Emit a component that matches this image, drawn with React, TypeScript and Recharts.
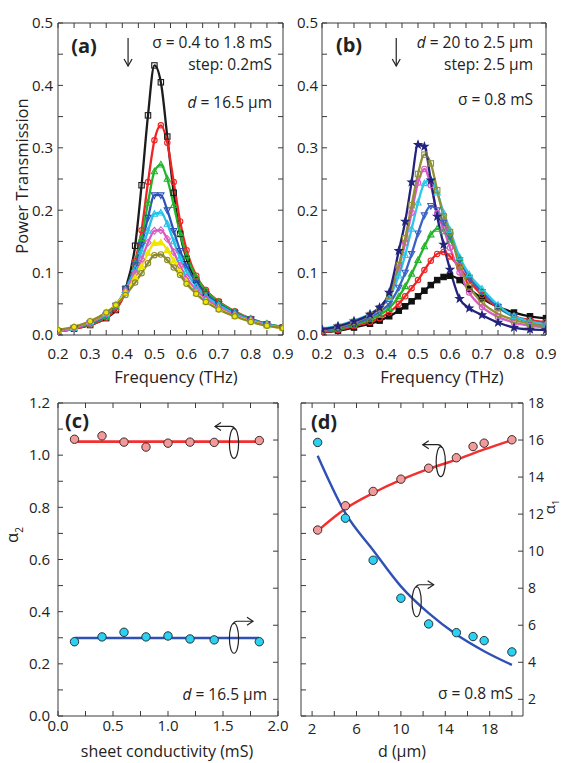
import React from "react";
import { ComposedChart, LineChart, Line, Scatter, XAxis, YAxis, ReferenceDot } from "recharts";

const W = 563;
const H = 763;
const FONT = "'Open Sans', 'Noto Sans', sans-serif";
const INK = "#222";

// ---- panels (a) and (b): frequency grid (THz) ----
const FREQ = [0.2, 0.25, 0.3, 0.35, 0.38, 0.41, 0.44, 0.46, 0.48, 0.5, 0.52, 0.54, 0.56, 0.58, 0.6, 0.63, 0.66, 0.7, 0.75, 0.8, 0.85, 0.9];
const FREQ_TICKS = [0.2, 0.25, 0.3, 0.35, 0.4, 0.45, 0.5, 0.55, 0.6, 0.65, 0.7, 0.75, 0.8, 0.85, 0.9];
const POWER_TICKS = [0, 0.05, 0.1, 0.15, 0.2, 0.25, 0.3, 0.35, 0.4, 0.45, 0.5];

// (a) sigma = 0.4 .. 1.8 mS
const SIG04 = [0.006, 0.010, 0.016, 0.027, 0.040, 0.074, 0.143, 0.240, 0.352, 0.432, 0.405, 0.318, 0.228, 0.162, 0.122, 0.088, 0.068, 0.052, 0.036, 0.025, 0.017, 0.012];
const SIG06 = [0.006, 0.010, 0.016, 0.028, 0.041, 0.068, 0.118, 0.168, 0.245, 0.312, 0.336, 0.308, 0.245, 0.182, 0.136, 0.095, 0.072, 0.054, 0.038, 0.026, 0.018, 0.013];
const SIG08 = [0.006, 0.011, 0.018, 0.030, 0.045, 0.072, 0.115, 0.155, 0.212, 0.262, 0.273, 0.250, 0.208, 0.163, 0.127, 0.093, 0.071, 0.053, 0.037, 0.026, 0.018, 0.013];
const SIG10 = [0.006, 0.011, 0.019, 0.032, 0.047, 0.073, 0.112, 0.145, 0.188, 0.224, 0.224, 0.200, 0.167, 0.135, 0.110, 0.084, 0.066, 0.050, 0.035, 0.025, 0.017, 0.012];
const SIG12 = [0.006, 0.011, 0.020, 0.033, 0.048, 0.072, 0.106, 0.134, 0.167, 0.194, 0.196, 0.178, 0.150, 0.123, 0.101, 0.078, 0.062, 0.048, 0.034, 0.024, 0.017, 0.012];
const SIG14 = [0.006, 0.011, 0.020, 0.034, 0.048, 0.070, 0.099, 0.121, 0.148, 0.167, 0.168, 0.154, 0.133, 0.111, 0.092, 0.072, 0.058, 0.045, 0.032, 0.023, 0.016, 0.011];
const SIG16 = [0.008, 0.013, 0.022, 0.036, 0.049, 0.068, 0.092, 0.110, 0.131, 0.147, 0.148, 0.136, 0.119, 0.101, 0.085, 0.067, 0.054, 0.042, 0.030, 0.022, 0.015, 0.011];
const SIG18 = [0.008, 0.013, 0.022, 0.036, 0.048, 0.064, 0.084, 0.099, 0.115, 0.128, 0.129, 0.120, 0.108, 0.096, 0.082, 0.066, 0.053, 0.041, 0.030, 0.021, 0.015, 0.011];

// (b) d = 20 .. 2.5 um
const D200 = [0.009, 0.014, 0.022, 0.033, 0.044, 0.068, 0.135, 0.182, 0.245, 0.305, 0.302, 0.248, 0.190, 0.145, 0.105, 0.058, 0.043, 0.032, 0.020, 0.012, 0.009, 0.008];
const D175 = [0.008, 0.013, 0.021, 0.032, 0.043, 0.063, 0.112, 0.155, 0.208, 0.258, 0.289, 0.275, 0.232, 0.190, 0.165, 0.110, 0.078, 0.052, 0.034, 0.024, 0.018, 0.014];
const D150 = [0.008, 0.013, 0.021, 0.032, 0.043, 0.062, 0.108, 0.148, 0.196, 0.244, 0.266, 0.240, 0.195, 0.170, 0.140, 0.100, 0.068, 0.045, 0.029, 0.020, 0.015, 0.012];
const D125 = [0.010, 0.015, 0.023, 0.034, 0.044, 0.060, 0.095, 0.128, 0.170, 0.212, 0.243, 0.249, 0.228, 0.196, 0.168, 0.125, 0.097, 0.074, 0.048, 0.030, 0.022, 0.017];
const D100 = [0.007, 0.011, 0.018, 0.028, 0.037, 0.050, 0.076, 0.100, 0.130, 0.163, 0.192, 0.207, 0.200, 0.180, 0.158, 0.120, 0.092, 0.069, 0.045, 0.030, 0.021, 0.016];
const D075 = [0.006, 0.010, 0.016, 0.025, 0.032, 0.043, 0.062, 0.078, 0.098, 0.120, 0.142, 0.161, 0.170, 0.166, 0.153, 0.123, 0.095, 0.069, 0.045, 0.029, 0.021, 0.016];
const D050 = [0.005, 0.008, 0.014, 0.021, 0.027, 0.036, 0.050, 0.062, 0.075, 0.088, 0.104, 0.119, 0.130, 0.133, 0.126, 0.108, 0.087, 0.064, 0.044, 0.030, 0.024, 0.021];
const D025 = [0.004, 0.007, 0.012, 0.018, 0.023, 0.030, 0.039, 0.046, 0.054, 0.062, 0.071, 0.080, 0.088, 0.093, 0.095, 0.088, 0.074, 0.059, 0.045, 0.036, 0.030, 0.027];

// ---- panel (c): fit parameters vs sheet conductivity ----
const SIGMA_PTS = [0.15, 0.4, 0.6, 0.8, 1.0, 1.2, 1.42, 1.83];
const ALPHA2_C = [1.061, 1.074, 1.050, 1.031, 1.046, 1.050, 1.049, 1.056];
const ALPHA1_C = [5.11, 5.37, 5.62, 5.37, 5.42, 5.26, 5.21, 5.11];
const SIGMA_FIT = [0.15, 1.83];
const ALPHA2_C_FIT = [1.052, 1.052];
const ALPHA1_C_FIT = [5.31, 5.31];

// ---- panel (d): fit parameters vs spacing ----
const D_PTS = [2.5, 5, 7.5, 10, 12.5, 15, 16.5, 17.5, 20];
const ALPHA2_D = [0.713, 0.806, 0.861, 0.908, 0.950, 0.990, 1.033, 1.046, 1.059];
const ALPHA1_D = [15.87, 11.78, 9.51, 7.46, 6.07, 5.60, 5.39, 5.17, 4.56];
const D_FIT = [2.5, 5, 7.5, 10, 12.5, 15, 17.5, 20];
const ALPHA2_D_FIT = [0.710, 0.795, 0.855, 0.905, 0.947, 0.983, 1.022, 1.058];
const ALPHA1_D_FIT = [15.15, 12.05, 10.05, 8.1, 6.65, 5.5, 4.6, 3.86];

const COND_TICKS = [0, 0.25, 0.5, 0.75, 1, 1.25, 1.5, 1.75, 2];
const ALPHA2_TICKS = [0, 0.1, 0.2, 0.3, 0.4, 0.5, 0.6, 0.7, 0.8, 0.9, 1, 1.1, 1.2];
const ALPHA1_TICKS = [2, 4, 6, 8, 10, 12, 14, 16, 18];
const D_TICKS = [2, 4, 6, 8, 10, 12, 14, 16, 18, 20];

type Series = { key: string; values: number[]; color: string; shape: string; fill?: string };

const SERIES_A: Series[] = [
    { key: "s04", values: SIG04, color: "#1c1c1c", shape: "square" },
    { key: "s06", values: SIG06, color: "#f02424", shape: "circle" },
    { key: "s08", values: SIG08, color: "#22b52a", shape: "triUp" },
    { key: "s10", values: SIG10, color: "#2d52b8", shape: "triDown" },
    { key: "s12", values: SIG12, color: "#22c3e6", shape: "triUp" },
    { key: "s14", values: SIG14, color: "#d95bc0", shape: "diamond" },
    { key: "s16", values: SIG16, color: "#efe600", shape: "triUp", fill: "#efe600" },
    { key: "s18", values: SIG18, color: "#8b8b2c", shape: "circle" },
];

const SERIES_B: Series[] = [
    { key: "d025", values: D025, color: "#111111", shape: "square", fill: "#111111" },
    { key: "d050", values: D050, color: "#f02424", shape: "circle" },
    { key: "d075", values: D075, color: "#22b52a", shape: "triUp" },
    { key: "d100", values: D100, color: "#3a62c4", shape: "triDown" },
    { key: "d125", values: D125, color: "#2cc6ea", shape: "triUp" },
    { key: "d150", values: D150, color: "#d95bc0", shape: "circle" },
    { key: "d175", values: D175, color: "#8f9033", shape: "square" },
    { key: "d200", values: D200, color: "#23237e", shape: "star", fill: "#23237e" },
];

const rowsFrom = (series: Series[]) =>
    FREQ.map((f, i) => {
        const r: Record<string, number> = { f };
        series.forEach((s) => (r[s.key] = s.values[i]));
        return r;
    });

const pairs = (xs: number[], ys: number[]) => xs.map((x, i) => ({ x, y: ys[i] }));

function markerDot(shape: string, color: string, fill?: string) {
    return (p: any) => {
        const { cx, cy, index } = p;
        if (cx == null || cy == null) return <g key={index} />;
        const f = fill || "none";
        const s = 2.7;
        let el: React.ReactNode;
        if (shape === "square") el = <rect x={cx - s} y={cy - s} width={2 * s} height={2 * s} />;
        else if (shape === "circle") el = <circle cx={cx} cy={cy} r={s} />;
        else if (shape === "triUp") el = <polygon points={`${cx},${cy - 3.3} ${cx + 3.1},${cy + 2.3} ${cx - 3.1},${cy + 2.3}`} />;
        else if (shape === "triDown") el = <polygon points={`${cx},${cy + 3.3} ${cx + 3.1},${cy - 2.3} ${cx - 3.1},${cy - 2.3}`} />;
        else if (shape === "diamond") el = <polygon points={`${cx},${cy - 3.4} ${cx + 3.1},${cy} ${cx},${cy + 3.4} ${cx - 3.1},${cy}`} />;
        else {
            const pts: string[] = [];
            for (let k = 0; k < 10; k++) {
                const a = -Math.PI / 2 + (k * Math.PI) / 5;
                const rr = k % 2 === 0 ? 3.9 : 1.6;
                pts.push(`${cx + rr * Math.cos(a)},${cy + rr * Math.sin(a)}`);
            }
            el = <polygon points={pts.join(" ")} />;
        }
        return (
            <g key={index} stroke={color} strokeWidth={1.1} fill={f}>
                {el}
            </g>
        );
    };
}

const tickStyle = { fontFamily: FONT, fontSize: 15, fill: INK };
const blank = () => "";
const fmtStep = (step: number, digits: number) => (v: number) =>
    Math.abs(v / step - Math.round(v / step)) < 1e-6 ? v.toFixed(digits) : "";

// recharts skips axes of zero size, so every axis gets a 1px box and the margins are 1px smaller
const axisCommon = {
    type: "number" as const,
    stroke: "#3a3a3a",
    tickSize: -5,
    allowDataOverflow: true,
    tick: tickStyle,
    interval: 0 as const,
};

const frame = (top: number, left: number, right: number, bottom: number) => ({
    top: top - 1,
    left: left - 1,
    right: W - right - 1,
    bottom: H - bottom - 1,
});

const DownArrow = (p: any) => {
    const { cx, cy } = p;
    return (
        <g stroke={INK} strokeWidth={1.2} fill="none">
            <line x1={cx} y1={cy - 14} x2={cx} y2={cy + 14} />
            <polyline points={`${cx - 4},${cy + 7} ${cx},${cy + 14} ${cx + 4},${cy + 7}`} />
        </g>
    );
};

const loopArrow = (dir: number, len: number) => (p: any) => {
    const { cx, cy } = p;
    const ty = cy - 17;
    const tip = cx + dir * len;
    return (
        <g stroke={INK} strokeWidth={1.2} fill="none">
            <ellipse cx={cx} cy={cy} rx={4.6} ry={15} />
            <path d={`M ${cx + dir * -1} ${cy - 14} Q ${cx} ${ty} ${cx + dir * 3} ${ty} L ${tip} ${ty}`} />
            <polyline points={`${tip - dir * 6},${ty - 4} ${tip},${ty} ${tip - dir * 6},${ty + 4}`} />
        </g>
    );
};

const Txt: React.FC<{ x: number; y: number; align?: "c" | "r"; size?: number; bold?: boolean; rot?: boolean; children: React.ReactNode }> = ({
    x, y, align = "c", size = 15.5, bold, rot, children,
}) => {
    const base: React.CSSProperties = {
        position: "absolute",
        top: y,
        fontFamily: FONT,
        fontSize: size,
        fontWeight: bold ? 700 : 400,
        color: INK,
        lineHeight: 1,
        whiteSpace: "nowrap",
    };
    if (align === "r") return <div style={{ ...base, right: W - x, transform: "translateY(-50%)" }}>{children}</div>;
    return (
        <div style={{ ...base, left: x, transform: `translate(-50%, -50%)${rot ? " rotate(-90deg)" : ""}` }}>{children}</div>
    );
};

const Spectra: React.FC<{ series: Series[]; left: number; right: number; arrowF: number; yMargin: number }> = ({
    series, left, right, arrowF, yMargin,
}) => (
    <LineChart
        width={W}
        height={H}
        data={rowsFrom(series)}
        margin={frame(23, left, right, 335)}
        style={{ position: "absolute", left: 0, top: 0 }}
    >
        <XAxis {...axisCommon} xAxisId="b" dataKey="f" domain={[0.2, 0.9]} ticks={FREQ_TICKS} tickFormatter={fmtStep(0.1, 1)} height={1} tickMargin={18} />
        <XAxis {...axisCommon} xAxisId="t" orientation="top" dataKey="f" domain={[0.2, 0.9]} ticks={FREQ_TICKS} tickFormatter={blank} height={1} />
        <YAxis {...axisCommon} yAxisId="l" domain={[0, 0.5]} ticks={POWER_TICKS} tickFormatter={fmtStep(0.1, 1)} width={1} tickMargin={yMargin} />
        <YAxis {...axisCommon} yAxisId="r" orientation="right" domain={[0, 0.5]} ticks={POWER_TICKS} tickFormatter={blank} width={1} />
        {series.map((s) => (
            <Line
                key={s.key}
                xAxisId="b"
                yAxisId="l"
                type="monotone"
                dataKey={s.key}
                stroke={s.color}
                strokeWidth={2.3}
                dot={markerDot(s.shape, s.color, s.fill)}
                isAnimationActive={false}
            />
        ))}
        <ReferenceDot xAxisId="b" yAxisId="l" x={arrowF} y={0.4535} shape={DownArrow} />
    </LineChart>
);

const pinkDot = (p: any) => <circle cx={p.cx} cy={p.cy} r={4.2} fill="#f29a9a" stroke="#3a2a2a" strokeWidth={1} />;
const cyanDot = (p: any) => <circle cx={p.cx} cy={p.cy} r={4.2} fill="#2ed0f2" stroke="#23343a" strokeWidth={1} />;

export default function App() {
    return (
        <div style={{ position: "absolute", left: 0, top: 0, width: W, height: H, background: "#fff", overflow: "hidden" }}>
            <Spectra series={SERIES_A} left={58} right={283} arrowF={0.418} yMargin={10} />
            <Spectra series={SERIES_B} left={322} right={546} arrowF={0.432} yMargin={9} />

            {/* (c) */}
            <ComposedChart width={W} height={H} margin={frame(403, 58, 278, 716)} style={{ position: "absolute", left: 0, top: 0 }}>
                <XAxis {...axisCommon} xAxisId="b" dataKey="x" domain={[0, 2]} ticks={COND_TICKS} tickFormatter={fmtStep(0.5, 1)} height={1} tickMargin={9} />
                <XAxis {...axisCommon} xAxisId="t" orientation="top" dataKey="x" domain={[0, 2]} ticks={COND_TICKS} tickFormatter={blank} height={1} />
                <YAxis {...axisCommon} yAxisId="l" domain={[0, 1.2]} ticks={ALPHA2_TICKS} tickFormatter={fmtStep(0.2, 1)} width={1} tickMargin={13} />
                <YAxis {...axisCommon} yAxisId="r" orientation="right" domain={[1.1, 18]} ticks={ALPHA1_TICKS} tickFormatter={blank} width={1} />
                <Line xAxisId="b" yAxisId="l" data={pairs(SIGMA_FIT, ALPHA2_C_FIT)} dataKey="y" stroke="#f23030" strokeWidth={2.6} dot={false} isAnimationActive={false} />
                <Line xAxisId="b" yAxisId="r" data={pairs(SIGMA_FIT, ALPHA1_C_FIT)} dataKey="y" stroke="#2f50b5" strokeWidth={2.6} dot={false} isAnimationActive={false} />
                <Scatter xAxisId="b" yAxisId="l" data={pairs(SIGMA_PTS, ALPHA2_C)} dataKey="y" shape={pinkDot} isAnimationActive={false} />
                <Scatter xAxisId="b" yAxisId="r" data={pairs(SIGMA_PTS, ALPHA1_C)} dataKey="y" shape={cyanDot} isAnimationActive={false} />
                <ReferenceDot xAxisId="b" yAxisId="l" x={1.6} y={1.045} shape={loopArrow(-1, 19)} />
                <ReferenceDot xAxisId="b" yAxisId="l" x={1.6} y={0.298} shape={loopArrow(1, 19)} />
            </ComposedChart>

            {/* (d) */}
            <ComposedChart width={W} height={H} margin={frame(403, 301, 523, 716)} style={{ position: "absolute", left: 0, top: 0 }}>
                <XAxis {...axisCommon} xAxisId="b" dataKey="x" domain={[1, 21]} ticks={D_TICKS} tickFormatter={(v: number) => ((v - 2) % 4 === 0 ? String(v) : "")} height={1} tickMargin={12} />
                <XAxis {...axisCommon} xAxisId="t" orientation="top" dataKey="x" domain={[1, 21]} ticks={D_TICKS} tickFormatter={blank} height={1} />
                <YAxis {...axisCommon} yAxisId="l" domain={[0, 1.2]} ticks={ALPHA2_TICKS} tickFormatter={blank} width={1} />
                <YAxis {...axisCommon} yAxisId="r" orientation="right" domain={[1.1, 18]} ticks={ALPHA1_TICKS} tickFormatter={(v: number) => String(v)} width={1} tickMargin={10} tick={{ ...tickStyle, fontSize: 14 }} />
                <Line xAxisId="b" yAxisId="l" data={pairs(D_FIT, ALPHA2_D_FIT)} type="monotone" dataKey="y" stroke="#f23030" strokeWidth={2.4} dot={false} isAnimationActive={false} />
                <Line xAxisId="b" yAxisId="r" data={pairs(D_FIT, ALPHA1_D_FIT)} type="monotone" dataKey="y" stroke="#2f50b5" strokeWidth={2.4} dot={false} isAnimationActive={false} />
                <Scatter xAxisId="b" yAxisId="l" data={pairs(D_PTS, ALPHA2_D)} dataKey="y" shape={pinkDot} isAnimationActive={false} />
                <Scatter xAxisId="b" yAxisId="r" data={pairs(D_PTS, ALPHA1_D)} dataKey="y" shape={cyanDot} isAnimationActive={false} />
                <ReferenceDot xAxisId="b" yAxisId="l" x={13.59} y={0.975} shape={loopArrow(-1, 18)} />
                <ReferenceDot xAxisId="b" yAxisId="r" x={11.42} y={7.27} shape={loopArrow(1, 17)} />
            </ComposedChart>

            {/* axis titles */}
            <Txt x={21.5} y={176} size={16.5} rot>Power Transmission</Txt>
            <Txt x={176} y={377} size={16.5}>Frequency (THz)</Txt>
            <Txt x={442} y={377} size={16.5}>Frequency (THz)</Txt>
            <Txt x={167} y={751} size={16}>sheet conductivity (mS)</Txt>
            <Txt x={402} y={751} size={16}>d (μm)</Txt>
            <Txt x={14} y={535} size={16.5} rot>α<sub style={{ fontSize: 10 }}>2</sub></Txt>
            <Txt x={551} y={507} size={15} rot>α<sub style={{ fontSize: 9 }}>1</sub></Txt>

            {/* panel labels and notes */}
            <Txt x={84} y={46} size={20} bold>(a)</Txt>
            <Txt x={272} y={43} align="r">σ = 0.4 to 1.8 mS</Txt>
            <Txt x={272} y={65} align="r">step: 0.2mS</Txt>
            <Txt x={272} y={103} align="r"><i>d</i> = 16.5 μm</Txt>

            <Txt x={349} y={45} size={20} bold>(b)</Txt>
            <Txt x={533} y={43} align="r"><i>d</i> = 20 to 2.5 μm</Txt>
            <Txt x={533} y={65} align="r">step: 2.5 μm</Txt>
            <Txt x={533} y={100} align="r">σ = 0.8 mS</Txt>

            <Txt x={77} y={421} size={20} bold>(c)</Txt>
            <Txt x={267} y={695} align="r"><i>d</i> = 16.5 μm</Txt>

            <Txt x={324} y={422} size={20} bold>(d)</Txt>
            <Txt x={513} y={694} align="r">σ = 0.8 mS</Txt>
        </div>
    );
}
